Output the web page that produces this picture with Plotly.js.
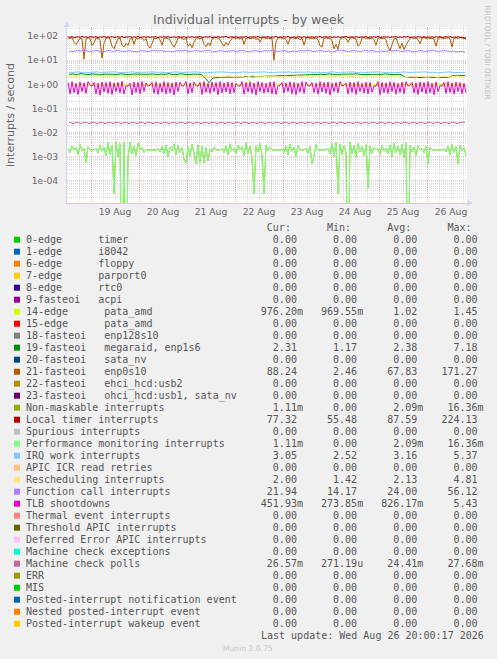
<!DOCTYPE html>
<html><head><meta charset="utf-8">
<script src="https://cdn.plot.ly/plotly-3.0.1.min.js"></script>
<style>html,body{margin:0;padding:0;background:#F0F0F0;}#chart{width:497px;height:659px;}</style>
</head><body><div id="chart"></div>
<script>
// ---------- legend table data ----------
const seriesNames = [
  "0-edge      timer","1-edge      i8042","6-edge      floppy","7-edge      parport0","8-edge      rtc0",
  "9-fasteoi   acpi","14-edge      pata_amd","15-edge      pata_amd","18-fasteoi   enp128s10",
  "19-fasteoi   megaraid, enp1s6","20-fasteoi   sata_nv","21-fasteoi   enp0s10","22-fasteoi   ehci_hcd:usb2",
  "23-fasteoi   ohci_hcd:usb1, sata_nv","Non-maskable interrupts","Local timer interrupts","Spurious interrupts",
  "Performance monitoring interrupts","IRQ work interrupts","APIC ICR read retries","Rescheduling interrupts",
  "Function call interrupts","TLB shootdowns","Thermal event interrupts","Threshold APIC interrupts",
  "Deferred Error APIC interrupts","Machine check exceptions","Machine check polls","ERR","MIS",
  "Posted-interrupt notification event","Nested posted-interrupt event","Posted-interrupt wakeup event"
];
const seriesColors = [
  "#00CC00","#0066B3","#FF8000","#FFCC00","#330099","#990099","#CCFF00","#FF0000","#808080",
  "#008F00","#00487D","#B35A00","#B38F00","#6B006B","#8FB300","#B30000","#BEBEBE","#80FF80",
  "#80C9FF","#FFC080","#FFE680","#AA80FF","#EE00CC","#FF8080","#666600","#FFBFFF","#00FFCC",
  "#CC6699","#999900","#00CC00","#0066B3","#FF8000","#FFCC00"
];
const statCur = [0,0,0,0,0,0,0.9762,0,0,2.31,0,88.24,0,0,0.00111,77.32,0,0.00111,3.05,0,2.00,21.94,0.45193,0,0,0,0,0.02657,0,0,0,0,0];
const statMin = [0,0,0,0,0,0,0.969551,0,0,1.17,0,2.46,0,0,0,55.48,0,0,2.52,0,1.42,14.17,0.273851,0,0,0,0,0.00027119,0,0,0,0,0];
const statAvg = [0,0,0,0,0,0,1.02,0,0,2.38,0,67.83,0,0,0.00209,87.59,0,0.00209,3.16,0,2.13,24.00,0.82617,0,0,0,0,0.02441,0,0,0,0,0];
const statMax = [0,0,0,0,0,0,1.45,0,0,7.18,0,171.27,0,0,0.01636,224.13,0,0.01636,5.37,0,4.81,56.12,5.43,0,0,0,0,0.02768,0,0,0,0,0];

const xTickLabels = ["19 Aug","20 Aug","21 Aug","22 Aug","23 Aug","24 Aug","25 Aug","26 Aug"];
const yTickLabels = ["1e-04","1e-03","1e-02","1e-01","1e+00","1e+01","1e+02"];
const yTickValues = [1e-4,1e-3,1e-2,1e-1,1,10,100];

// ---------- time series (hourly, 200 points) ----------
const localTimerVals = [
  92,88,96,85,90,94,87,98,89,93,86,95,91,88,97,84,92,90,95,87,
  93,89,96,86,91,94,88,97,85,92,90,95,87,93,89,98,86,91,94,88,
  95,87,92,90,96,85,93,89,94,88,97,86,91,93,87,95,90,88,96,84,
  92,89,95,87,93,90,98,86,91,94,88,96,85,92,89,95,87,93,90,97,
  86,92,94,88,95,87,91,93,89,96,85,92,90,94,88,97,86,91,93,89,
  95,87,92,90,96,86,93,88,94,89,97,85,91,93,87,95,90,88,96,86,
  92,89,94,87,93,90,97,85,91,95,88,96,86,92,89,94,87,93,90,98,
  86,91,94,88,95,87,92,93,89,96,85,92,90,94,88,97,86,91,93,89,
  94,87,92,90,96,86,93,88,95,89,97,85,91,93,87,95,90,88,96,86,
  92,89,94,87,93,90,97,85,91,95,88,96,86,92,89,94,87,90,84,77.32
];
const enp0s10Vals = [
  84,80,86,55,45,60,82,78,11,76,85,80,40,52,83,79,70,12,50,81,
  86,75,38,30,45,78,84,42,35,50,40,72,85,45,80,76,88,82,65,79,
  40,32,48,83,77,86,70,42,81,84,78,68,45,35,50,82,87,79,72,85,
  38,48,33,55,80,86,77,83,45,36,52,40,75,84,88,80,70,50,38,55,
  42,60,82,86,79,84,75,88,45,80,85,78,83,86,72,81,55,84,87,79,
  83,76,85,10,60,82,88,79,84,72,45,80,86,83,78,85,70,82,42,81,
  87,79,84,76,85,68,40,35,80,86,78,83,65,30,45,28,72,84,88,80,
  55,82,86,79,75,38,45,83,87,80,84,77,86,70,42,81,85,78,83,68,
  35,25,40,75,82,45,30,50,28,42,55,80,86,79,84,72,48,83,87,80,
  85,78,82,75,38,80,86,84,79,83,87,76,35,82,85,80,88,84,79,88.24
];
const tlbVals = [
  1.2,0.4,1.3,0.45,1.1,0.38,1.25,0.5,1.15,0.42,1.3,0.9,0.85,1.2,0.4,1.1,0.35,1.25,0.48,1.2,
  0.42,1.3,0.38,1.15,0.5,1.2,0.44,1.35,0.4,0.88,0.82,1.1,0.36,1.25,0.46,1.2,0.4,1.3,0.5,1.15,
  0.86,0.9,1.2,0.42,1.28,0.38,1.1,0.47,1.3,0.4,1.2,0.44,1.15,0.36,1.25,0.5,1.2,0.84,0.9,1.3,
  0.4,1.15,0.45,1.25,0.88,0.83,1.2,0.38,1.3,0.46,1.1,0.42,1.25,0.5,1.2,0.37,1.3,0.44,1.15,0.48,
  1.25,0.4,1.2,0.45,1.1,0.87,0.82,1.3,0.39,1.2,0.48,1.25,0.42,1.15,0.36,1.3,0.5,1.2,0.43,1.1,
  0.46,1.25,0.4,1.3,0.38,0.86,0.9,1.2,0.44,1.15,0.5,1.28,0.41,1.2,0.37,1.1,0.47,1.3,0.42,1.25,
  0.88,0.84,1.2,0.45,1.15,0.39,1.3,0.48,1.2,0.42,1.25,0.36,1.1,0.5,1.2,0.44,1.3,0.85,0.9,1.15,
  0.4,1.25,0.46,1.2,0.38,1.3,0.5,1.1,0.43,1.25,0.4,1.2,0.47,0.87,0.83,1.3,0.37,1.2,0.45,1.15,
  0.42,1.28,0.5,1.2,0.39,1.1,0.46,1.25,0.41,1.3,0.86,0.9,1.2,0.44,1.15,0.38,1.25,0.48,1.2,0.4,
  1.3,0.45,1.1,0.37,1.25,0.5,0.88,0.84,1.2,0.42,1.3,0.46,1.15,0.39,1.25,0.5,1.2,0.41,1.1,0.452
];
// Non-maskable and Performance monitoring interrupts report identical values
const perfMonNmiVals = [
  0.0021,0.0015,0.0028,0.0019,0.0024,0.0012,0.0032,0.0018,0.0022,0.00056,0.0026,0.0019,0.0019,0.0019,0.0023,0.0014,0.0030,0.0017,0.0025,0.0011,
  0.0038,0.0012,0.0030,0.00003,0.0042,0.0010,0.0035,0,0.0040,0,0.0009,0.0040,0.0013,0.0028,0.0011,0.0036,0.0019,0.0024,0.0015,0.0020,
  0.0019,0.0019,0.0019,0.0019,0.0019,0.0022,0.0016,0.0027,0.0013,0.0031,0.0010,0.0025,0.0018,0.0034,0.0012,0.0029,0.0015,0.0024,0.0008,0.00056,
  0.0026,0.0011,0.0033,0.0014,0.0005,0.0030,0.0006,0.0028,0.00055,0.0024,0.0007,0.0021,0.0016,0.0025,0.0019,0.0019,0.0019,0.0023,0.0015,0.0028,
  0.0012,0.0034,0.0017,0.0022,0.0013,0.0030,0.0019,0.0026,0.0011,0.0038,0.0014,0.0027,0.0009,0.00003,0.0029,0.0016,0.0035,0.0012,0.00003,0.0031,
  0.0018,0.0024,0.0019,0.0019,0.0019,0.0019,0.0019,0.0021,0.0015,0.0028,0.0012,0.0033,0.0017,0.0025,0.0010,0.0030,0.0019,0.0019,0.0019,0.0022,
  0.0014,0.0027,0.0005,0.0011,0.0032,0.0019,0.0019,0.0019,0.0019,0.0019,0.0023,0.0013,0.0036,0.0010,0.0040,0.00003,0.0034,0.0012,0.0029,0.0015,
  0,0.0041,0.0013,0.0030,0.0009,0.0035,0.0016,0.0026,0.0011,0.0032,0.00005,0.0028,0.0014,0.0024,0.0019,0.0021,0.0012,0.0029,0.0017,0.0023,
  0.0013,0.0031,0.0010,0.0036,0.0015,0.0027,0.0012,0.0033,0.0009,0.0038,0,0.0030,0.0016,0.0025,0.0011,0.0029,0.0019,0.0022,0.0014,0.0027,
  0.0005,0.0024,0.0019,0.0019,0.0019,0.0019,0.0019,0.0019,0.0021,0.0016,0.0028,0.0012,0.0033,0.0015,0.0026,0.0005,0.0030,0.0017,0.0024,0.00111
];
// ---------- time series (2-hourly, 100 points) ----------
const megaraidVals = [
  2.6,2.7,2.5,2.8,2.6,2.55,2.7,2.6,2.5,2.65,2.7,2.6,2.55,2.75,2.6,2.5,2.65,2.6,2.7,2.55,
  2.6,2.7,2.5,2.65,2.6,2.75,2.55,2.6,2.7,2.6,2.5,2.65,2.6,2.55,
  1.9,1.17,1.85,1.9,1.95,1.9,2.0,1.95,2.0,2.05,2.0,2.1,2.05,2.1,2.15,2.2,2.15,2.2,2.25,2.3,2.3,2.35,2.4,2.45,2.5,
  2.55,2.6,2.5,2.65,2.6,2.55,2.7,2.6,2.5,2.6,2.65,2.55,2.6,2.7,2.55,2.6,2.5,2.65,2.6,2.55,2.7,2.6,2.5,2.6,2.55,
  1.95,1.9,2.0,1.95,1.9,2.0,1.95,2.0,1.9,1.95,2.0,1.95,
  2.3,2.4,2.35,2.31
];
const reschedVals = [
  2.1,2.2,2.0,2.3,2.1,1.9,2.2,2.1,2.4,2.0,2.1,2.2,1.95,2.3,2.1,2.0,2.2,2.1,2.35,2.0,
  2.1,2.2,1.9,2.1,2.3,2.0,2.2,2.1,2.0,2.25,2.1,1.95,2.2,2.1,2.3,2.0,2.1,2.2,2.0,2.15,
  2.3,2.0,2.1,2.2,1.9,2.1,2.35,2.0,2.2,2.1,2.0,2.3,2.1,1.95,2.2,2.1,2.0,2.25,2.1,2.2,
  2.0,2.1,2.3,1.9,2.2,2.1,2.0,2.2,2.1,2.35,2.0,2.1,2.2,1.95,2.1,2.3,2.0,2.2,2.1,2.0,
  2.2,2.1,2.3,2.0,1.9,2.1,2.2,2.0,2.3,2.1,2.0,2.2,1.95,2.1,2.25,2.0,2.1,2.2,2.1,2.0
];
const irqWorkVals = [
  3.2,3.1,3.3,3.1,3.2,3.0,3.2,3.3,3.1,3.2,3.1,3.3,3.2,3.0,3.1,3.2,3.3,3.1,3.2,3.1,
  3.2,3.3,3.1,3.2,3.0,3.1,3.2,3.3,3.1,3.2,3.1,3.2,3.3,3.0,3.2,3.1,3.2,3.1,3.3,3.2,
  3.1,3.2,3.0,3.2,3.3,3.1,3.2,3.1,3.2,3.3,3.1,3.0,3.2,3.1,3.2,3.3,3.1,3.2,3.1,3.2,
  3.3,3.1,3.2,3.0,3.1,3.2,3.3,3.1,3.2,3.1,3.2,3.3,3.0,3.2,3.1,3.2,3.1,3.3,3.2,3.1,
  3.2,3.0,3.1,3.2,3.3,3.1,3.2,3.1,3.2,3.3,3.1,3.2,3.0,3.1,3.2,3.3,3.1,3.2,3.1,3.05
];
const funcCallVals = [
  24,23,25,24,26,23,24,25,22,24,25,23,26,24,23,25,24,22,25,24,
  23,26,24,25,23,24,22,25,24,26,23,24,25,23,24,26,22,24,25,23,
  24,25,23,26,24,22,25,24,23,25,24,26,23,24,25,22,24,23,25,24,
  26,23,24,25,23,24,22,25,26,24,23,25,24,23,26,24,25,22,24,23,
  25,24,26,23,24,25,22,24,25,23,24,26,23,24,25,23,24,22,23,21.94
];
const pataAmdVals = [
  1.02,1.01,1.03,1.02,1.00,1.02,1.04,1.01,1.02,1.03,1.01,1.02,1.00,1.03,1.02,1.01,1.02,1.04,1.01,1.02,
  1.03,1.01,1.02,1.00,1.02,1.03,1.01,1.02,1.04,1.01,1.02,1.03,1.00,1.02,1.01,1.03,1.02,1.01,1.02,1.04,
  1.01,1.02,1.03,1.01,1.02,1.45,1.02,1.01,1.03,1.02,1.00,1.02,1.03,1.01,1.02,1.04,1.01,1.02,1.03,1.01,
  1.02,1.00,1.03,1.02,1.01,1.02,1.04,1.01,1.02,1.03,1.01,1.02,1.00,1.03,1.02,1.01,1.02,1.04,1.01,1.02,
  1.03,1.01,1.02,1.00,1.02,1.03,1.01,1.02,1.04,1.01,1.02,1.03,1.00,1.02,1.01,1.03,1.02,1.01,0.98,0.976
];
const mcePollVals = [
  0.0272,0.0236,0.0270,0.0238,0.0273,0.0235,0.0271,0.0237,0.0272,0.0236,0.0270,0.0239,0.0273,0.0235,0.0271,0.0237,0.0272,0.0236,0.0270,0.0238,
  0.0273,0.0235,0.0271,0.0237,0.0272,0.0236,0.0270,0.0238,0.0273,0.0235,0.0271,0.0237,0.0272,0.0236,0.0270,0.0239,0.0273,0.0235,0.0271,0.0237,
  0.0272,0.0236,0.0270,0.0238,0.0273,0.0235,0.0271,0.0237,0.0272,0.0236,0.0270,0.0238,0.0273,0.0235,0.0271,0.0237,0.0272,0.0236,0.0270,0.0239,
  0.0273,0.0235,0.0271,0.0237,0.0272,0.0236,0.0270,0.0238,0.0273,0.0235,0.0271,0.0237,0.0272,0.0236,0.0270,0.0238,0.0273,0.0235,0.0271,0.0237,
  0.0272,0.0236,0.0270,0.0238,0.0273,0.0235,0.0271,0.0237,0.0272,0.0236,0.0270,0.0239,0.0273,0.0235,0.0271,0.0237,0.0272,0.0236,0.0270,0.02657
];

// ---------- time axes ----------
const HOUR = 3600e3;
const tStart = Date.UTC(2026, 7, 18, 12);
const tEnd = Date.UTC(2026, 7, 26, 20);
const tHourly = localTimerVals.map((_, i) => tStart + (i + 0.5) * HOUR);
const tTwoHourly = megaraidVals.map((_, i) => tStart + (2 * i + 1) * HOUR);
const midnights = xTickLabels.map((_, k) => Date.UTC(2026, 7, 19 + k));

// ---------- geometry ----------
const W = 497, H = 659, ML = 67, MR = 30, MT = 27, MB = 456;
const PW = W - ML - MR, PH = H - MT - MB;
const px = p => (p - ML) / PW;
const py = p => (H - MB - p) / PH;

const LOG_FLOOR = 1e-9; // zeros are drawn off the bottom of the log axis
const logSafe = arr => arr.map(v => (v > 0 ? v : LOG_FLOOR));

const drawn = [
  {idx: 9,  x: tTwoHourly, y: megaraidVals},
  {idx: 11, x: tHourly,    y: enp0s10Vals},
  {idx: 6,  x: tTwoHourly, y: pataAmdVals},
  {idx: 14, x: tHourly,    y: perfMonNmiVals},
  {idx: 15, x: tHourly,    y: localTimerVals},
  {idx: 17, x: tHourly,    y: perfMonNmiVals},
  {idx: 18, x: tTwoHourly, y: irqWorkVals},
  {idx: 20, x: tTwoHourly, y: reschedVals},
  {idx: 21, x: tTwoHourly, y: funcCallVals},
  {idx: 22, x: tHourly,    y: tlbVals},
  {idx: 27, x: tTwoHourly, y: mcePollVals}
];
const traces = drawn.map(d => ({
  type: 'scatter', mode: 'lines', name: seriesNames[d.idx],
  x: d.x, y: logSafe(d.y),
  line: {color: seriesColors[d.idx], width: 1},
  hoverinfo: 'skip', showlegend: false
}));

// minor grid values
const yMinor = [];
for (let e = -5; e <= 2; e++) for (let m = 2; m <= 9; m++) yMinor.push(m * Math.pow(10, e));

// ---------- legend table ----------
const nb = s => s.replace(/ /g, '\u00a0');
const padEnd = (s, n) => { while (s.length < n) s += ' '; return s; };
function fmtVal(v) {
  let n = v, unit = ' ';
  if (v !== 0) {
    const a = Math.abs(v);
    if (a >= 1000) { n = v / 1000; unit = 'k'; }
    else if (a >= 1) { unit = ' '; }
    else if (a >= 1e-3) { n = v * 1e3; unit = 'm'; }
    else { n = v * 1e6; unit = 'u'; }
  }
  let s = (Math.round(n * 100) / 100).toFixed(2);
  while (s.length < 6) s = ' ' + s;
  return s + unit;
}
const monoFont = {family: 'DejaVu Sans Mono', size: 10, color: '#555555'};
const annotations = [];
const shapes = [];
const ROW0 = 239.7, ROWH = 12, TXT_X = 26;
annotations.push({xref: 'paper', yref: 'paper', x: px(TXT_X), y: py(227.7), xanchor: 'left', yanchor: 'middle',
  text: nb(padEnd('', 40) + 'Cur:      Min:      Avg:      Max:'), showarrow: false, font: monoFont, borderpad: 0, borderwidth: 0, align: 'left'});
seriesNames.forEach((name, i) => {
  const cy = ROW0 + ROWH * i;
  const row = padEnd(name, 39) + fmtVal(statCur[i]) + '   ' + fmtVal(statMin[i]) + '   ' + fmtVal(statAvg[i]) + '   ' + fmtVal(statMax[i]);
  annotations.push({xref: 'paper', yref: 'paper', x: px(TXT_X), y: py(cy), xanchor: 'left', yanchor: 'middle',
    text: nb(row), showarrow: false, font: monoFont, borderpad: 0, borderwidth: 0, align: 'left'});
  shapes.push({type: 'rect', xref: 'paper', yref: 'paper', x0: px(14), x1: px(20), y0: py(cy - 3), y1: py(cy + 3),
    fillcolor: seriesColors[i], line: {width: 0}});
});
annotations.push({xref: 'paper', yref: 'paper', x: px(261), y: py(635.7), xanchor: 'left', yanchor: 'middle',
  text: nb('Last update: Wed Aug 26 20:00:17 2026'), showarrow: false, font: monoFont, borderpad: 0, borderwidth: 0});
annotations.push({xref: 'paper', yref: 'paper', x: px(248), y: py(648), xanchor: 'center', yanchor: 'middle',
  text: 'Munin 2.0.75', showarrow: false, font: {family: 'DejaVu Sans', size: 7.6, color: '#c8c8c8'}, borderpad: 0, borderwidth: 0});
annotations.push({xref: 'paper', yref: 'paper', x: px(487.5), y: py(52), xanchor: 'center', yanchor: 'middle', textangle: 90,
  text: 'RRDTOOL / TOBI OETIKER', showarrow: false, font: {family: 'DejaVu Sans', size: 7.3, color: '#c4c4c4'}, borderpad: 0, borderwidth: 0});

// axis arrows
const tri = pts => 'M ' + pts.map(p => px(p[0]) + ',' + py(p[1])).join(' L ') + ' Z';
shapes.push({type: 'path', xref: 'paper', yref: 'paper', path: tri([[64, 27], [70, 27], [67, 21]]), fillcolor: '#CFD6F8', line: {width: 0}});
shapes.push({type: 'path', xref: 'paper', yref: 'paper', path: tri([[467, 200], [467, 206], [473, 203]]), fillcolor: '#CFD6F8', line: {width: 0}});

const tickFont = {family: 'DejaVu Sans', size: 9.2, color: '#666666'};
const layout = {
  width: W, height: H,
  margin: {l: ML, r: MR, t: MT, b: MB, pad: 0},
  paper_bgcolor: '#F0F0F0', plot_bgcolor: '#FFFFFF',
  showlegend: false,
  title: {text: 'Individual interrupts - by week', font: {family: 'DejaVu Sans', size: 12.5, color: '#666666'},
    x: 0.5, xref: 'container', xanchor: 'center', y: 1 - 19.5 / H, yref: 'container', yanchor: 'middle'},
  xaxis: {
    type: 'date', range: [tStart, tEnd], fixedrange: true,
    tickmode: 'array', tickvals: midnights, ticktext: xTickLabels, ticklabelshift: 24,
    ticks: '', tickfont: tickFont,
    showgrid: true, gridcolor: 'rgba(240,120,120,0.45)', gridwidth: 1, griddash: '1px,1px',
    minor: {dtick: 6 * HOUR, tick0: Date.UTC(2026, 7, 18), showgrid: true, gridcolor: 'rgba(140,140,140,0.3)', griddash: '1px,1px', gridwidth: 1, ticks: ''},
    showline: true, linecolor: '#E3D08A', linewidth: 1, zeroline: false
  },
  yaxis: {
    type: 'log', range: [Math.log10(1e-4) - 22 / 24, 2 + 9 / 24], fixedrange: true,
    tickmode: 'array', tickvals: yTickValues, ticktext: yTickLabels,
    ticks: '', tickfont: tickFont, ticklabelstandoff: 6,
    showgrid: true, gridcolor: 'rgba(240,120,120,0.45)', gridwidth: 1, griddash: '1px,1px',
    minor: {tickmode: 'array', tickvals: yMinor, showgrid: true, gridcolor: 'rgba(140,140,140,0.3)', griddash: '1px,1px', gridwidth: 1, ticks: ''},
    showline: true, linecolor: '#CFD6F8', linewidth: 1, zeroline: false,
    title: {text: 'interrupts / second', font: {family: 'DejaVu Sans', size: 11, color: '#666666'}, standoff: 10}
  },
  annotations: annotations,
  shapes: shapes
};
Plotly.newPlot('chart', traces, layout, {displayModeBar: false, staticPlot: true});
</script>
</body></html>
